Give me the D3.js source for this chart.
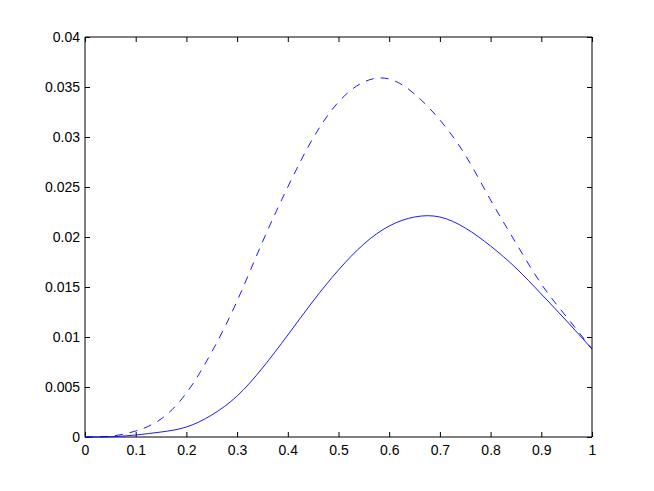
<!DOCTYPE html>
<html>
<head>
<meta charset="utf-8">
<script src="https://cdn.jsdelivr.net/npm/d3@7"></script>
<style>
html,body{margin:0;padding:0;background:#fff;}
svg{display:block;}
text{font-family:"Liberation Sans",Arial,Helvetica,sans-serif;}
</style>
</head>
<body>
<script>
// x positions of samples
const xValues = [0,0.05,0.1,0.15,0.2,0.25,0.3,0.35,0.4,0.45,0.5,0.55,0.6,0.65,0.7,0.75,0.8,0.85,0.9,0.95,1.0];
// solid curve
const solidValues = [0,0.00002,0.0002,0.0005,0.0010,0.0022,0.0041,0.0069,0.0102,0.0136,0.0167,0.0193,0.0211,0.0220,0.0220,0.0209,0.0191,0.0169,0.0143,0.0116,0.0088];
// dashed curve
const dashedValues = [0,0.00008,0.0006,0.0018,0.0044,0.0085,0.0136,0.0195,0.0250,0.0299,0.0335,0.0355,0.0358,0.0343,0.0317,0.0282,0.0237,0.0194,0.0153,0.0120,0.0088];
const xTicks = [0,0.1,0.2,0.3,0.4,0.5,0.6,0.7,0.8,0.9,1];
const yTicks = [0,0.005,0.01,0.015,0.02,0.025,0.03,0.035,0.04];

(function(){
const W = 654, H = 491;
const mLeft = 85, mRight = 592, mTop = 37, mBottom = 437;

const svg = d3.select("body").append("svg").attr("width", W).attr("height", H);
svg.append("rect").attr("width", W).attr("height", H).attr("fill", "#fff");

const x = d3.scaleLinear().domain([0,1]).range([mLeft, mRight]);
const y = d3.scaleLinear().domain([0,0.04]).range([mBottom, mTop]);

const fmt = d => String(+d.toFixed(3));

const gB = svg.append("g").attr("transform", `translate(0,${mBottom})`)
  .call(d3.axisBottom(x).tickValues(xTicks).tickSize(-5).tickPadding(8).tickFormat(fmt));
const gT = svg.append("g").attr("transform", `translate(0,${mTop})`)
  .call(d3.axisTop(x).tickValues(xTicks).tickSize(-5).tickFormat(""));
const gL = svg.append("g").attr("transform", `translate(${mLeft},0)`)
  .call(d3.axisLeft(y).tickValues(yTicks).tickSize(-5).tickPadding(5).tickFormat(fmt));
const gR = svg.append("g").attr("transform", `translate(${mRight},0)`)
  .call(d3.axisRight(y).tickValues(yTicks).tickSize(-5).tickFormat(""));

[gB,gT,gL,gR].forEach(g => {
  g.select(".domain").remove();
  g.selectAll("line").attr("stroke", "#000").attr("stroke-width", 1);
  g.selectAll("text").attr("font-size", 14).attr("fill", "#000")
    .attr("font-family", "'Liberation Sans', Arial, sans-serif");
});
gB.selectAll("text").attr("dy", "0.71em");

svg.append("line").attr("x1", mLeft).attr("x2", mLeft).attr("y1", mTop).attr("y2", mBottom+0.5).attr("stroke","#000");
svg.append("line").attr("x1", mLeft).attr("x2", mRight).attr("y1", mBottom).attr("y2", mBottom).attr("stroke","#000");
svg.append("line").attr("x1", mRight).attr("x2", mRight).attr("y1", mTop).attr("y2", mBottom).attr("stroke","#000");
svg.append("line").attr("x1", mLeft).attr("x2", mRight).attr("y1", mTop).attr("y2", mTop).attr("stroke","#000");

const line = d3.line().x((d,i) => x(xValues[i])).y(d => y(d)).curve(d3.curveNatural);

svg.append("path").datum(solidValues).attr("d", line)
  .attr("fill","none").attr("stroke","#0000ff").attr("stroke-width",0.9);
svg.append("path").datum(dashedValues).attr("d", line)
  .attr("fill","none").attr("stroke","#0000ff").attr("stroke-width",0.9)
  .attr("stroke-dasharray","8,7");
})();
</script>
</body>
</html>
